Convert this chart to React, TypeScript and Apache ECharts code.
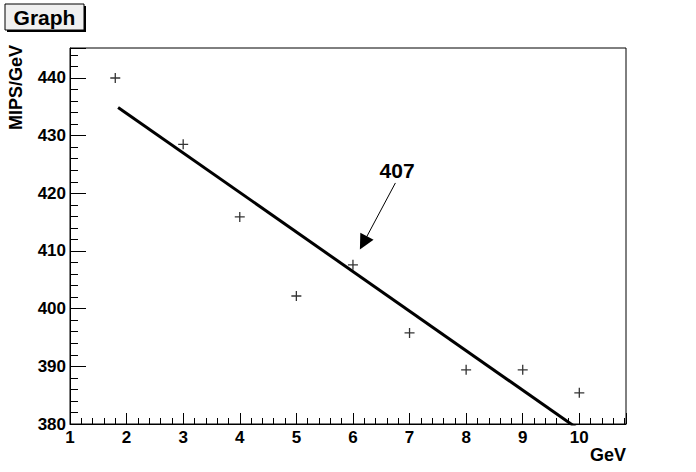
import React, { useEffect, useRef } from 'react';
import * as echarts from 'echarts';

// Measured points (GeV, MIPS/GeV)
const pointX = [1.8, 3, 4, 5, 6, 7, 8, 9, 10];
const pointY = [440, 428.5, 415.9, 402.2, 407.6, 395.8, 389.4, 389.4, 385.4];

// Fitted straight line end points
const fitX = [1.85, 10];
const fitY = [434.9, 379];

// Axis ranges and tick labels
const xRange = [1, 10.825];
const yRange = [380, 445.2];
const xTickLabels = [1, 2, 3, 4, 5, 6, 7, 8, 9, 10];
const yTickLabels = [380, 390, 400, 410, 420, 430, 440];

// Annotation
const annotationText = '407';
const annotationLabelAt = [6.78, 424.0];
const arrowFrom = [6.75, 421.8];
const arrowTo = [6.185, 411.4];

const titleText = 'Graph';
const xTitle = 'GeV';
const yTitle = 'MIPS/GeV';

const FONT = '"Liberation Sans", Arial, Helvetica, sans-serif';

export default function App() {
  const ref = useRef<HTMLDivElement>(null);

  useEffect(() => {
    if (!ref.current) return;
    const chart = echarts.init(ref.current, undefined, { renderer: 'svg' });

    const tickLabelStyle = {
      color: '#000',
      fontSize: 17,
      fontWeight: 'bold' as const,
      fontFamily: FONT,
    };

    const option: any = {
      animation: false,
      backgroundColor: '#ffffff',
      grid: {
        left: 70,
        top: 48,
        right: 70,
        bottom: 48,
        show: true,
        borderColor: '#000',
        borderWidth: 1,
        backgroundColor: 'transparent',
      },
      xAxis: [
        {
          type: 'value',
          min: xRange[0],
          max: xRange[1],
          interval: 1,
          position: 'bottom',
          axisLine: { show: true, lineStyle: { color: '#000', width: 1 } },
          axisTick: { show: true, inside: true, length: 11, lineStyle: { color: '#000', width: 1 } },
          axisLabel: {
            ...tickLabelStyle,
            margin: 5,
            formatter: (v: number) => (xTickLabels.includes(Math.round(v * 1000) / 1000) ? String(v) : ''),
          },
          splitLine: { show: false },
        },
        {
          type: 'value',
          min: xRange[0],
          max: xRange[1],
          interval: 0.2,
          position: 'bottom',
          axisLine: { show: false },
          axisTick: { show: true, inside: true, length: 6, lineStyle: { color: '#000', width: 1 } },
          axisLabel: { show: false },
          splitLine: { show: false },
        },
      ],
      yAxis: [
        {
          type: 'value',
          min: yRange[0],
          max: yRange[1],
          interval: 10,
          position: 'left',
          axisLine: { show: true, lineStyle: { color: '#000', width: 1 } },
          axisTick: { show: true, inside: true, length: 16, lineStyle: { color: '#000', width: 1 } },
          axisLabel: {
            ...tickLabelStyle,
            margin: 4,
            formatter: (v: number) => (yTickLabels.includes(Math.round(v * 1000) / 1000) ? String(v) : ''),
          },
          splitLine: { show: false },
        },
        {
          type: 'value',
          min: yRange[0],
          max: yRange[1],
          interval: 2,
          position: 'left',
          axisLine: { show: false },
          axisTick: { show: true, inside: true, length: 8, lineStyle: { color: '#000', width: 1 } },
          axisLabel: { show: false },
          splitLine: { show: false },
        },
      ],
      series: [
        {
          type: 'scatter',
          xAxisIndex: 0,
          yAxisIndex: 0,
          data: pointX.map((x, i) => [x, pointY[i]]),
          symbol: 'path://M0,4.35h10v1.3H0zM4.35,0h1.3v10H4.35z',
          symbolSize: 10,
          itemStyle: { color: '#000' },
          silent: true,
        },
        {
          type: 'line',
          xAxisIndex: 0,
          yAxisIndex: 0,
          data: fitX.map((x, i) => [x, fitY[i]]),
          showSymbol: false,
          symbol: 'none',
          clip: true,
          lineStyle: { color: '#000', width: 3 },
          silent: true,
          markLine: {
            silent: true,
            symbol: ['none', 'triangle'],
            symbolSize: 15,
            lineStyle: { color: '#000', width: 1, type: 'solid' },
            label: { show: false },
            emphasis: { disabled: true },
            data: [[{ coord: arrowFrom }, { coord: arrowTo }]],
          },
          markPoint: {
            silent: true,
            symbol: 'circle',
            symbolSize: 1,
            itemStyle: { color: 'rgba(0,0,0,0)' },
            label: {
              show: true,
              position: 'inside',
              formatter: annotationText,
              color: '#000',
              fontSize: 21,
              fontWeight: 'bold',
              fontFamily: FONT,
            },
            data: [{ coord: annotationLabelAt, value: annotationText }],
          },
        },
      ],
      graphic: [
        {
          type: 'rect',
          shape: { x: 7, y: 6, width: 79, height: 26 },
          style: { fill: '#000' },
          silent: true,
        },
        {
          type: 'rect',
          shape: { x: 5, y: 4, width: 79, height: 26 },
          style: { fill: '#f0f0f0', stroke: '#000', lineWidth: 1 },
          silent: true,
        },
        {
          type: 'text',
          x: 44.5,
          y: 17.5,
          style: {
            text: titleText,
            align: 'center',
            verticalAlign: 'middle',
            fill: '#000',
            fontSize: 21,
            fontWeight: 'bold',
            fontFamily: FONT,
          },
          silent: true,
        },
        {
          type: 'text',
          x: 16,
          y: 45,
          rotation: Math.PI / 2,
          style: {
            text: yTitle,
            align: 'right',
            verticalAlign: 'middle',
            fill: '#000',
            fontSize: 18,
            fontWeight: 'bold',
            fontFamily: FONT,
          },
          silent: true,
        },
        {
          type: 'text',
          x: 626,
          y: 455,
          style: {
            text: xTitle,
            align: 'right',
            verticalAlign: 'middle',
            fill: '#000',
            fontSize: 18,
            fontWeight: 'bold',
            fontFamily: FONT,
          },
          silent: true,
        },
      ],
    };

    chart.setOption(option);
    return () => {
      chart.dispose();
    };
  }, []);

  return (
    <div
      ref={ref}
      style={{ position: 'fixed', left: 0, top: 0, width: 696, height: 472, background: '#fff' }}
    />
  );
}
